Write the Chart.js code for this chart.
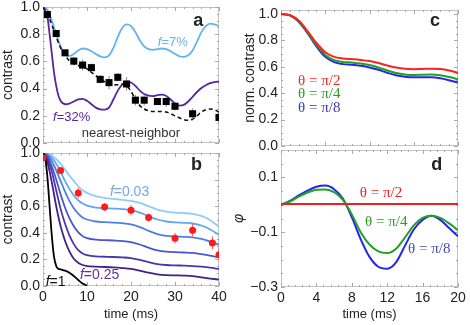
<!DOCTYPE html>
<html>
<head>
<meta charset="utf-8">
<script src="https://cdn.jsdelivr.net/npm/chart.js@4.4.0/dist/chart.umd.min.js"></script>
<style>
html, body { margin: 0; padding: 0; background: #fff; }
#wrap { position: relative; width: 470px; height: 325px; }
#wrap canvas { position: absolute; left: 0; top: 0; }
</style>
</head>
<body>
<div id="wrap">
  <canvas id="panelA" width="470" height="325"></canvas>
  <canvas id="panelB" width="470" height="325"></canvas>
  <canvas id="panelC" width="470" height="325"></canvas>
  <canvas id="panelD" width="470" height="325"></canvas>
</div>
<script>
// ---- panel a: measured contrast vs. simulations ----
const aDataTimes = [1, 3, 5, 7, 9, 11, 13, 15, 17, 19, 21, 23, 26, 28, 30, 34, 40];
const aDataValues = [0.944, 0.805, 0.663, 0.602, 0.573, 0.554, 0.468, 0.444, 0.483, 0.434, 0.315, 0.315, 0.305, 0.305, 0.27, 0.215, 0.188];
const aDataErrors = [0.03, 0.02, 0.02, 0.03, 0.04, 0.03, 0.03, 0.05, 0.03, 0.05, 0.04, 0.04, 0.02, 0.04, 0.03, 0.04, 0.04];

const aCurveTimes = [0, 1, 2, 3, 4, 5, 6, 7, 8, 9, 10, 11, 12, 13, 14, 15, 16, 17, 18, 19, 20,
                     21, 22, 23, 24, 25, 26, 27, 28, 29, 30, 31, 32, 33, 34, 35, 36, 37, 38, 39, 40];
const aF7 = [1.0, 0.98, 0.90, 0.80, 0.71, 0.65, 0.64, 0.655, 0.68, 0.695, 0.69, 0.675, 0.655, 0.637, 0.63, 0.645, 0.70, 0.78, 0.845, 0.872, 0.86,
             0.815, 0.755, 0.71, 0.69, 0.685, 0.69, 0.695, 0.69, 0.675, 0.655, 0.638, 0.633, 0.645, 0.68, 0.745, 0.815, 0.86, 0.878, 0.872, 0.86];
const aNearest = [1.0, 0.95, 0.87, 0.78, 0.70, 0.645, 0.605, 0.583, 0.57, 0.56, 0.545, 0.52, 0.495, 0.47, 0.45, 0.435, 0.427, 0.428, 0.432, 0.42, 0.38,
                  0.32, 0.275, 0.25, 0.237, 0.232, 0.232, 0.232, 0.228, 0.215, 0.2, 0.185, 0.172, 0.167, 0.175, 0.2, 0.228, 0.245, 0.25, 0.245, 0.225];
const aF32Times = [0, 1, 1.5, 2, 2.5, 3, 3.5, 4, 5, 6, 7, 8, 9, 10, 11, 12, 13, 14, 15, 16, 17, 18, 19, 20,
                   21, 22, 23, 24, 25, 26, 27, 28, 29, 30, 31, 32, 33, 34, 35, 36, 37, 38, 39, 40];
const aF32 = [1.0, 0.93, 0.80, 0.66, 0.52, 0.42, 0.35, 0.31, 0.285, 0.29, 0.305, 0.32, 0.325, 0.31, 0.285, 0.26, 0.247, 0.245, 0.26, 0.32, 0.385, 0.43, 0.45, 0.445,
              0.42, 0.385, 0.36, 0.348, 0.345, 0.352, 0.355, 0.345, 0.32, 0.29, 0.275, 0.28, 0.305, 0.34, 0.375, 0.405, 0.425, 0.44, 0.448, 0.452];

// ---- panel b: contrast for several filling fractions f ----
const bDataTimes = [0, 4, 8, 14, 20, 24, 30, 34, 38.5, 40];
const bDataValues = [0.965, 0.869, 0.70, 0.594, 0.569, 0.515, 0.359, 0.42, 0.324, 0.235];
const bDataErrors = [0.02, 0.02, 0.04, 0.03, 0.04, 0.03, 0.04, 0.05, 0.05, 0.05];

const bTimes = [0, 1, 2, 3, 4, 5, 6, 7, 8, 9, 10, 12, 14, 16, 18, 20, 22, 24, 26, 28, 30, 32, 34, 36, 38, 40];
const bCurve1 = [1.0, 0.995, 0.98, 0.955, 0.92, 0.875, 0.83, 0.79, 0.75, 0.72, 0.70, 0.675, 0.663, 0.655, 0.648, 0.64, 0.625, 0.60, 0.575, 0.56, 0.552, 0.548, 0.543, 0.527, 0.495, 0.445];
const bCurve2 = [1.0, 0.99, 0.965, 0.92, 0.86, 0.79, 0.73, 0.68, 0.645, 0.62, 0.605, 0.59, 0.585, 0.582, 0.578, 0.57, 0.552, 0.525, 0.50, 0.485, 0.478, 0.475, 0.47, 0.455, 0.425, 0.385];
const bCurve3 = [1.0, 0.985, 0.94, 0.87, 0.79, 0.71, 0.64, 0.585, 0.545, 0.515, 0.50, 0.485, 0.48, 0.477, 0.472, 0.463, 0.443, 0.415, 0.39, 0.377, 0.372, 0.37, 0.366, 0.354, 0.334, 0.31];
const bCurve4 = [1.0, 0.975, 0.90, 0.80, 0.69, 0.59, 0.51, 0.45, 0.405, 0.375, 0.36, 0.348, 0.345, 0.342, 0.338, 0.33, 0.312, 0.288, 0.268, 0.258, 0.254, 0.252, 0.249, 0.24, 0.228, 0.215];
const bCurve5 = [1.0, 0.96, 0.86, 0.72, 0.58, 0.47, 0.38, 0.315, 0.27, 0.245, 0.232, 0.222, 0.22, 0.218, 0.215, 0.21, 0.197, 0.18, 0.165, 0.158, 0.155, 0.153, 0.15, 0.145, 0.138, 0.128];
const bCurve6 = [1.0, 0.93, 0.78, 0.60, 0.45, 0.34, 0.26, 0.205, 0.175, 0.158, 0.15, 0.145, 0.143, 0.14, 0.135, 0.128, 0.115, 0.10, 0.088, 0.082, 0.08, 0.078, 0.075, 0.065, 0.056, 0.048];
const bCurveColors = ['#92cbf8', '#62a6f0', '#4d7fe2', '#4b57cc', '#4936ad', '#43208a'];
const bF1Times = [0, 0.5, 1, 1.5, 2, 2.5, 3, 3.5, 4, 5, 6, 7, 8, 9, 10];
const bF1 = [1.0, 0.96, 0.82, 0.60, 0.38, 0.22, 0.15, 0.13, 0.125, 0.115, 0.10, 0.075, 0.045, 0.018, 0.003];

// ---- panel c: normalized contrast for three angles ----
const cdTimes = [0, 1, 2, 3, 4, 5, 6, 7, 8, 9, 10, 11, 12, 13, 14, 15, 16, 17, 18, 19, 20];
const cHalf = [1.0, 0.99, 0.95, 0.87, 0.78, 0.71, 0.675, 0.663, 0.658, 0.652, 0.643, 0.628, 0.61, 0.595, 0.585, 0.582, 0.584, 0.586, 0.583, 0.572, 0.555];
const cQuarter = [1.0, 0.99, 0.945, 0.86, 0.765, 0.69, 0.65, 0.637, 0.632, 0.625, 0.613, 0.595, 0.572, 0.553, 0.542, 0.538, 0.54, 0.541, 0.535, 0.522, 0.505];
const cEighth = [1.0, 0.99, 0.94, 0.855, 0.755, 0.675, 0.635, 0.62, 0.615, 0.607, 0.595, 0.577, 0.555, 0.536, 0.525, 0.52, 0.52, 0.52, 0.513, 0.498, 0.48];

// ---- panel d: phase for three angles ----
const dHalf = [0.003, 0.003, 0.003, 0.003, 0.003, 0.003, 0.003, 0.003, 0.003, 0.003, 0.003, 0.003, 0.003, 0.003, 0.003, 0.003, 0.003, 0.003, 0.003, 0.003, 0.003];
const dQuarter = [0, 0.012, 0.03, 0.045, 0.055, 0.056, 0.046, 0.018, -0.035, -0.10, -0.145, -0.17, -0.176, -0.16, -0.12, -0.075, -0.048, -0.04, -0.048, -0.068, -0.093];
const dEighth = [0, 0.014, 0.034, 0.052, 0.066, 0.07, 0.057, 0.022, -0.045, -0.125, -0.19, -0.226, -0.233, -0.21, -0.15, -0.09, -0.055, -0.04, -0.055, -0.085, -0.115];

const SANS = "'Liberation Sans', Arial, sans-serif";
const SERIF = "'Liberation Serif', 'Times New Roman', serif";
const sans = (size, style) => (style ? style + ' ' : '') + size + 'px ' + SANS;
const serif = size => size + 'px ' + SERIF;

function points(times, vals) {
    return times.map((t, i) => ({ x: t, y: vals[i] }));
}

function errorSegments(times, vals, errs) {
    const out = [];
    times.forEach((t, i) => {
        out.push({ x: t, y: vals[i] - errs[i] }, { x: t, y: vals[i] + errs[i] }, { x: t, y: null });
    });
    return out;
}

function lineDs(data, color, width, dash) {
    return {
        data: data,
        borderColor: color,
        borderWidth: width,
        borderDash: dash || [],
        pointRadius: 0,
        fill: false,
        cubicInterpolationMode: 'monotone',
        spanGaps: false
    };
}

function errDs(data, color) {
    return { data: data, borderColor: color, borderWidth: 1, pointRadius: 0, tension: 0, spanGaps: false };
}

function markDs(data, style, radius, color) {
    return { data: data, showLine: false, pointStyle: style, pointRadius: radius, backgroundColor: color, borderColor: color, borderWidth: 0 };
}

// light grey box with inward ticks on all four sides
function framePlugin(cfg) {
    return {
        id: 'frame',
        beforeDatasetsDraw(chart) {
            const { ctx, chartArea: a, scales: { x, y } } = chart;
            ctx.save();
            ctx.strokeStyle = '#c4c4c4';
            ctx.lineWidth = 1;
            ctx.strokeRect(a.left + 0.5, a.top + 0.5, a.right - a.left - 1, a.bottom - a.top - 1);
            ctx.strokeStyle = '#a8a8a8';
            ctx.beginPath();
            for (let v = x.min; v <= x.max + 1e-9; v += cfg.xMinor) {
                const major = Math.abs(v / cfg.xMajor - Math.round(v / cfg.xMajor)) < 1e-6;
                const len = major ? 4 : 2;
                const px = Math.round(x.getPixelForValue(v)) + 0.5;
                ctx.moveTo(px, a.bottom); ctx.lineTo(px, a.bottom - len);
                ctx.moveTo(px, a.top); ctx.lineTo(px, a.top + len);
            }
            for (let v = cfg.yStart; v <= y.max + 1e-9; v += cfg.yMinor) {
                const k = (v - cfg.yMajorFrom) / cfg.yMajor;
                const major = Math.abs(k - Math.round(k)) < 1e-6;
                const len = major ? 4 : 2;
                const py = Math.round(y.getPixelForValue(v)) + 0.5;
                ctx.moveTo(a.left, py); ctx.lineTo(a.left + len, py);
                ctx.moveTo(a.right, py); ctx.lineTo(a.right - len, py);
            }
            ctx.stroke();
            ctx.restore();
        }
    };
}

// in-plot labels, placed in data coordinates
function textPlugin(items) {
    return {
        id: 'texts',
        afterDatasetsDraw(chart) {
            const { ctx, scales: { x, y } } = chart;
            ctx.save();
            ctx.textBaseline = 'middle';
            ctx.textAlign = 'left';
            items.forEach(item => {
                let px = x.getPixelForValue(item.x);
                const py = y.getPixelForValue(item.y);
                const widths = item.parts.map(p => { ctx.font = p.font; return ctx.measureText(p.text).width; });
                const total = widths.reduce((s, w) => s + w, 0);
                if (item.align === 'center') px -= total / 2;
                item.parts.forEach((p, i) => {
                    ctx.font = p.font;
                    ctx.fillStyle = item.color;
                    ctx.fillText(p.text, px, py);
                    px += widths[i];
                });
            });
            ctx.restore();
        }
    };
}

function makePanel(id, box, xOpt, yOpt, datasets, texts, frame) {
    const clearPad = s => { s.paddingLeft = 0; s.paddingRight = 0; s.paddingTop = 0; s.paddingBottom = 0; };
    return new Chart(document.getElementById(id), {
        type: 'line',
        data: { datasets: datasets },
        options: {
            responsive: false,
            animation: false,
            devicePixelRatio: 1,
            layout: {
                padding: { left: box.left - box.yW, top: box.top, right: 470 - box.right, bottom: 325 - box.bottom - box.xH }
            },
            plugins: { legend: { display: false }, tooltip: { enabled: false } },
            scales: {
                x: {
                    type: 'linear',
                    position: 'bottom',
                    min: xOpt.min,
                    max: xOpt.max,
                    grid: { display: false, drawTicks: false },
                    border: { display: false },
                    ticks: {
                        display: xOpt.labels,
                        stepSize: xOpt.step,
                        autoSkip: false,
                        maxRotation: 0,
                        padding: 3,
                        color: '#222',
                        font: { family: SANS, size: 14 }
                    },
                    title: {
                        display: xOpt.labels,
                        text: 'time (ms)',
                        color: '#222',
                        font: { family: SANS, size: 13 },
                        padding: { top: 0, bottom: 3 }
                    },
                    afterFit: s => { s.height = box.xH; clearPad(s); }
                },
                y: {
                    type: 'linear',
                    min: yOpt.min,
                    max: yOpt.max,
                    grid: { display: false, drawTicks: false },
                    border: { display: false },
                    ticks: {
                        stepSize: yOpt.step,
                        includeBounds: false,
                        autoSkip: false,
                        padding: 3,
                        color: '#222',
                        font: { family: SANS, size: 14 },
                        callback: yOpt.format
                    },
                    title: {
                        display: true,
                        text: yOpt.title,
                        color: '#222',
                        font: { family: SANS, size: 14, style: yOpt.titleStyle || 'normal' },
                        padding: { top: yOpt.titlePad, bottom: 0 }
                    },
                    afterFit: s => { s.width = box.yW; clearPad(s); }
                }
            }
        },
        plugins: [framePlugin(frame), textPlugin(texts)]
    });
}

const oneDecimal = v => (Math.round(v * 10) / 10).toFixed(1);

// panel a
makePanel('panelA',
    { left: 43, right: 219, top: 7, bottom: 143, yW: 43, xH: 0 },
    { min: 0, max: 40, step: 10, labels: false },
    { min: 0, max: 1, step: 0.2, title: 'contrast', titlePad: 0, format: oneDecimal },
    [
        markDs(points(aDataTimes, aDataValues), 'rect', 5, '#000'),
        errDs(errorSegments(aDataTimes, aDataValues, aDataErrors), '#8a8a8a'),
        lineDs(points(aCurveTimes, aNearest), '#111', 1.6, [4, 3]),
        lineDs(points(aF32Times, aF32), '#5a24a0', 1.8),
        lineDs(points(aCurveTimes, aF7), '#62b4f0', 1.8)
    ],
    [
        { x: 26.1, y: 0.743, color: '#62b4f0', parts: [{ text: 'f', font: sans(13, 'italic') }, { text: '=7%', font: sans(13) }] },
        { x: 2.3, y: 0.19, color: '#5a24a0', parts: [{ text: 'f', font: sans(13, 'italic') }, { text: '=32%', font: sans(13) }] },
        { x: 20, y: 0.074, align: 'center', color: '#333', parts: [{ text: 'nearest-neighbor', font: sans(13) }] },
        { x: 35.3, y: 0.897, align: 'center', color: '#222', parts: [{ text: 'a', font: sans(18, 'bold') }] }
    ],
    { xMinor: 2, xMajor: 10, yStart: 0, yMinor: 0.05, yMajor: 0.2, yMajorFrom: 0 }
);

// panel b
makePanel('panelB',
    { left: 43, right: 219, top: 153, bottom: 286, yW: 43, xH: 39 },
    { min: 0, max: 40, step: 10, labels: true },
    { min: 0, max: 1, step: 0.2, title: 'contrast', titlePad: 0, format: oneDecimal },
    [
        markDs(points(bDataTimes, bDataValues), 'circle', 3.5, '#ff1a1a'),
        errDs(errorSegments(bDataTimes, bDataValues, bDataErrors), '#ff5a5a'),
        lineDs(points(bF1Times, bF1), '#000', 1.8),
        lineDs(points(bTimes, bCurve6), bCurveColors[5], 1.8),
        lineDs(points(bTimes, bCurve5), bCurveColors[4], 1.8),
        lineDs(points(bTimes, bCurve4), bCurveColors[3], 1.8),
        lineDs(points(bTimes, bCurve3), bCurveColors[2], 1.8),
        lineDs(points(bTimes, bCurve2), bCurveColors[1], 1.8),
        lineDs(points(bTimes, bCurve1), bCurveColors[0], 1.8)
    ],
    [
        { x: 15.2, y: 0.709, color: '#78a6e6', parts: [{ text: 'f', font: sans(14, 'italic') }, { text: '=0.03', font: sans(14) }] },
        { x: 8.4, y: 0.083, color: '#6030a0', parts: [{ text: 'f', font: sans(14, 'italic') }, { text: '=0.25', font: sans(14) }] },
        { x: 0.6, y: 0.032, color: '#111', parts: [{ text: 'f', font: sans(14, 'italic') }, { text: '=1', font: sans(14) }] },
        { x: 34.9, y: 0.91, align: 'center', color: '#222', parts: [{ text: 'b', font: sans(18, 'bold') }] }
    ],
    { xMinor: 2, xMajor: 10, yStart: 0, yMinor: 0.05, yMajor: 0.2, yMajorFrom: 0 }
);

// panel c
makePanel('panelC',
    { left: 281, right: 458, top: 10, bottom: 146, yW: 50, xH: 0 },
    { min: 0, max: 20, step: 4, labels: false },
    { min: 0, max: 1.03, step: 0.2, title: 'norm. contrast', titlePad: 10.6, format: oneDecimal },
    [
        lineDs(points(cdTimes, cHalf), '#ff2020', 2),
        lineDs(points(cdTimes, cQuarter), '#22a022', 2),
        lineDs(points(cdTimes, cEighth), '#2424f0', 2)
    ],
    [
        { x: 1.92, y: 0.49, color: '#ff2020', parts: [{ text: 'θ = π/2', font: serif(15) }] },
        { x: 1.92, y: 0.394, color: '#22a022', parts: [{ text: 'θ = π/4', font: serif(15) }] },
        { x: 1.92, y: 0.288, color: '#3a3aae', parts: [{ text: 'θ = π/8', font: serif(15) }] },
        { x: 17.4, y: 0.947, align: 'center', color: '#222', parts: [{ text: 'c', font: sans(18, 'bold') }] }
    ],
    { xMinor: 1, xMajor: 5, yStart: 0, yMinor: 0.05, yMajor: 0.2, yMajorFrom: 0 }
);

// panel d
makePanel('panelD',
    { left: 281, right: 458, top: 150, bottom: 287, yW: 50, xH: 38 },
    { min: 0, max: 20, step: 4, labels: true },
    {
        min: -0.3, max: 0.2, step: 0.1, title: 'φ', titleStyle: 'italic', titlePad: 0,
        format: v => {
            const r = Math.round(v * 10);
            return (r === 1 || r === -1 || r === -3) ? (r < 0 ? '\u2212' : '') + Math.abs(r / 10).toFixed(1) : '';
        }
    },
    [
        lineDs(points(cdTimes, dHalf), '#f02020', 2),
        lineDs(points(cdTimes, dQuarter), '#22a022', 2),
        lineDs(points(cdTimes, dEighth), '#2424f0', 2)
    ],
    [
        { x: 8.9, y: 0.044, color: '#f02020', parts: [{ text: 'θ = π/2', font: serif(15) }] },
        { x: 9.5, y: -0.062, color: '#22a022', parts: [{ text: 'θ = π/4', font: serif(15) }] },
        { x: 14.35, y: -0.16, color: '#4a4ab0', parts: [{ text: 'θ = π/8', font: serif(15) }] },
        { x: 17.6, y: 0.145, align: 'center', color: '#222', parts: [{ text: 'd', font: sans(18, 'bold') }] }
    ],
    { xMinor: 0.8, xMajor: 4, yStart: -0.3, yMinor: 0.05, yMajor: 0.2, yMajorFrom: -0.3 }
);
</script>
</body>
</html>
